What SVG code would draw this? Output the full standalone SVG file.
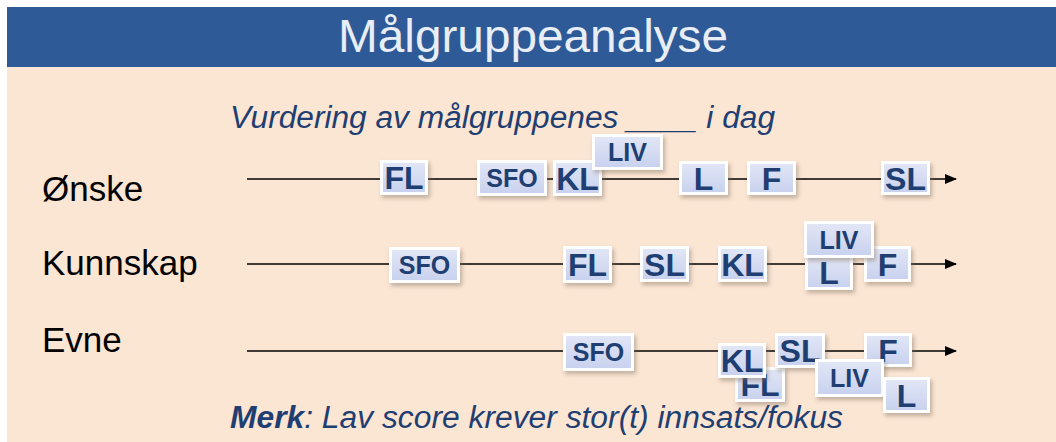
<svg xmlns="http://www.w3.org/2000/svg" width="1056" height="442" viewBox="0 0 1056 442">
<defs>
<linearGradient id="inner" x1="0" y1="0" x2="0" y2="1">
<stop offset="0" stop-color="#E1E6F6"/>
<stop offset="1" stop-color="#C9D2EE"/>
</linearGradient>
<filter id="sh" x="-20%" y="-20%" width="150%" height="160%">
<feDropShadow dx="2" dy="3" stdDeviation="2" flood-color="#7a6a5a" flood-opacity="0.45"/>
</filter>
<marker id="arr" viewBox="0 0 12 10" refX="11" refY="5" markerWidth="12" markerHeight="10" markerUnits="userSpaceOnUse" orient="auto">
<path d="M0,0 L12,5 L0,10 z" fill="#000"/>
</marker>
<style>
.outer{fill:#FFFFFF;filter:url(#sh)}
.in{fill:url(#inner)}
.t2{font-family:"Liberation Sans",Arial,sans-serif;font-weight:bold;font-size:32px;fill:#1F3E72;text-anchor:middle}
.t3{font-family:"Liberation Sans",Arial,sans-serif;font-weight:bold;font-size:25px;fill:#1F3E72;text-anchor:middle}
.lbl{font-family:"Liberation Sans",Arial,sans-serif;font-size:35px;fill:#000}
.it{font-family:"Liberation Sans",Arial,sans-serif;font-style:italic;font-size:31px;fill:#1F3E72}
.ln{stroke:#000;stroke-width:1.5;fill:none;marker-end:url(#arr)}
</style>
</defs>
<rect x="0" y="0" width="1056" height="442" fill="#FFFFFF"/>
<rect x="7" y="67" width="1049" height="375" fill="#FBE5D3"/>
<rect x="7" y="7" width="1049" height="60" fill="#2E5A97"/>
<text x="533" y="52" font-family="'Liberation Sans',Arial,sans-serif" font-size="47" fill="#E9EEF6" text-anchor="middle" textLength="390" lengthAdjust="spacingAndGlyphs">Målgruppeanalyse</text>
<text class="it" x="230" y="128" textLength="545" lengthAdjust="spacingAndGlyphs">Vurdering av målgruppenes ____ i dag</text>
<text class="it" x="230" y="428" textLength="613" lengthAdjust="spacingAndGlyphs"><tspan font-weight="bold">Merk</tspan>: Lav score krever stor(t) innsats/fokus</text>
<text class="lbl" x="42" y="201">Ønske</text>
<text class="lbl" x="42" y="275">Kunnskap</text>
<text class="lbl" x="42" y="352">Evne</text>
<g id="connectors">
<line class="ln" x1="247" y1="179" x2="956" y2="179"/>
<line class="ln" x1="247" y1="264" x2="956" y2="264"/>
<line class="ln" x1="247" y1="351" x2="956" y2="351"/>
</g>
<g id="r1-FL"><rect class="outer" x="380" y="160" width="48" height="35"/><rect class="in" x="383" y="163" width="42" height="29"/><text class="t2" x="404" y="189">FL</text></g>
<g id="r1-SFO"><rect class="outer" x="477" y="160" width="70" height="36"/><rect class="in" x="480" y="163" width="64" height="30"/><text class="t3" x="512" y="187">SFO</text></g>
<g id="r1-KL"><rect class="outer" x="553" y="160" width="49" height="36"/><rect class="in" x="556" y="163" width="43" height="30"/><text class="t2" x="577.5" y="189.5">KL</text></g>
<g id="r1-LIV"><rect class="outer" x="592" y="134" width="71" height="36"/><rect class="in" x="595" y="137" width="65" height="30"/><text class="t3" x="627.5" y="161">LIV</text></g>
<g id="r1-L"><rect class="outer" x="679" y="161" width="49" height="34"/><rect class="in" x="682" y="164" width="43" height="28"/><text class="t2" x="703.5" y="189.5">L</text></g>
<g id="r1-F"><rect class="outer" x="747" y="161" width="49" height="34"/><rect class="in" x="750" y="164" width="43" height="28"/><text class="t2" x="771.5" y="189.5">F</text></g>
<g id="r1-SL"><rect class="outer" x="881" y="161" width="49" height="34"/><rect class="in" x="884" y="164" width="43" height="28"/><text class="t2" x="905.5" y="189.5">SL</text></g>
<g id="r2-SFO"><rect class="outer" x="389" y="247" width="71" height="36"/><rect class="in" x="392" y="250" width="65" height="30"/><text class="t3" x="424.5" y="274">SFO</text></g>
<g id="r2-FL"><rect class="outer" x="563" y="246" width="49" height="37"/><rect class="in" x="566" y="249" width="43" height="31"/><text class="t2" x="587.5" y="276">FL</text></g>
<g id="r2-SL"><rect class="outer" x="640" y="246" width="49" height="36"/><rect class="in" x="643" y="249" width="43" height="30"/><text class="t2" x="664.5" y="275.5">SL</text></g>
<g id="r2-KL"><rect class="outer" x="718" y="246" width="49" height="36"/><rect class="in" x="721" y="249" width="43" height="30"/><text class="t2" x="742.5" y="275.5">KL</text></g>
<g id="r2-L"><rect class="outer" x="805" y="255" width="48" height="35"/><rect class="in" x="808" y="258" width="42" height="29"/><text class="t2" x="829" y="284">L</text></g>
<g id="r2-F"><rect class="outer" x="864" y="246" width="47" height="36"/><rect class="in" x="867" y="249" width="41" height="30"/><text class="t2" x="887.5" y="275.5">F</text></g>
<g id="r2-LIV"><rect class="outer" x="804" y="221" width="70" height="37"/><rect class="in" x="807" y="224" width="64" height="31"/><text class="t3" x="839" y="248.5">LIV</text></g>
<g id="r3-SFO"><rect class="outer" x="563" y="333" width="71" height="38"/><rect class="in" x="566" y="336" width="65" height="32"/><text class="t3" x="598.5" y="361">SFO</text></g>
<g id="r3-FL"><rect class="outer" x="735" y="367" width="50" height="35"/><rect class="in" x="738" y="370" width="44" height="29"/><text class="t2" x="760" y="396">FL</text></g>
<g id="r3-KL"><rect class="outer" x="718" y="343" width="48" height="35"/><rect class="in" x="721" y="346" width="42" height="29"/><text class="t2" x="742" y="372">KL</text></g>
<g id="r3-SL"><rect class="outer" x="775" y="333" width="50" height="35"/><rect class="in" x="778" y="336" width="44" height="29"/><text class="t2" x="800" y="361.5">SL</text></g>
<g id="r3-F"><rect class="outer" x="864" y="333" width="48" height="34"/><rect class="in" x="867" y="336" width="42" height="28"/><text class="t2" x="888" y="361.5">F</text></g>
<g id="r3-LIV"><rect class="outer" x="815" y="359" width="69" height="38"/><rect class="in" x="818" y="362" width="63" height="32"/><text class="t3" x="849.5" y="387">LIV</text></g>
<g id="r3-L"><rect class="outer" x="883" y="377" width="47" height="36"/><rect class="in" x="886" y="380" width="41" height="30"/><text class="t2" x="906.5" y="406.5">L</text></g>
</svg>
